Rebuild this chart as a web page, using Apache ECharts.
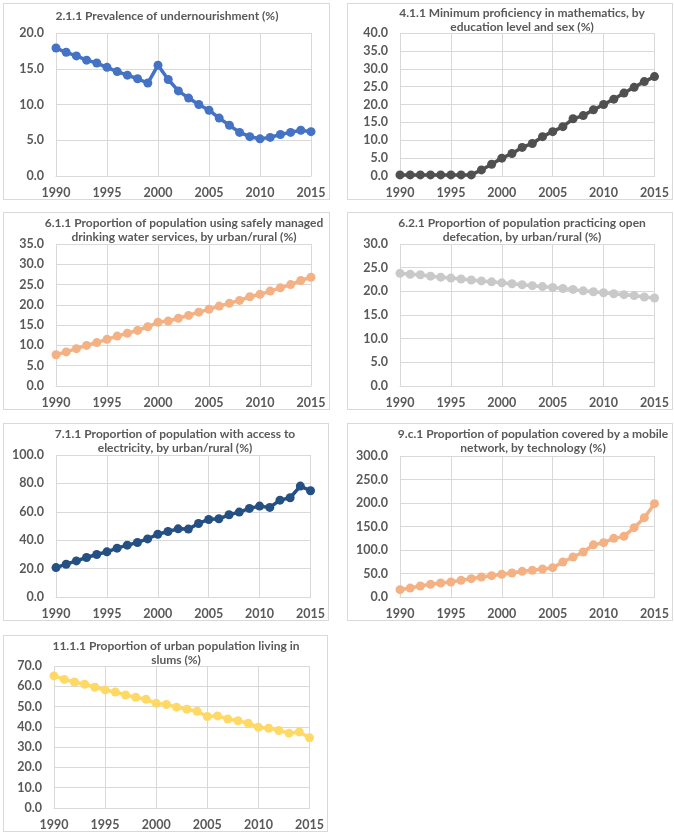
<!DOCTYPE html>
<html>
<head>
<meta charset="utf-8">
<script src="https://cdn.jsdelivr.net/npm/echarts@6/dist/echarts.min.js"></script>
<style>
  html, body { margin: 0; padding: 0; background: #fff; }
  body { width: 674px; height: 833px; position: relative; overflow: hidden; }
  .panel { position: absolute; border: 1px solid #d9d9d9; box-sizing: border-box; background: #fff; }
</style>
</head>
<body>
<div class="panel" id="p1" style="left:3px;top:3px;width:327px;height:197px"></div>
<div class="panel" id="p2" style="left:347px;top:3px;width:326px;height:197px"></div>
<div class="panel" id="p3" style="left:3px;top:212px;width:327px;height:198px"></div>
<div class="panel" id="p4" style="left:347px;top:212px;width:326px;height:198px"></div>
<div class="panel" id="p5" style="left:3px;top:423px;width:326px;height:198px"></div>
<div class="panel" id="p6" style="left:347px;top:423px;width:326px;height:198px"></div>
<div class="panel" id="p7" style="left:3px;top:635px;width:325px;height:197px"></div>
<script>
const years = ['1990','1991','1992','1993','1994','1995','1996','1997','1998','1999','2000','2001','2002',
  '2003','2004','2005','2006','2007','2008','2009','2010','2011','2012','2013','2014','2015']

// 2.1.1 Prevalence of undernourishment
const undernourishment = [17.9, 17.3, 16.8, 16.2, 15.8, 15.2, 14.6, 14.1, 13.6, 13.0, 15.5, 13.5, 11.9,
  10.9, 10.0, 9.2, 8.1, 7.1, 6.1, 5.5, 5.2, 5.4, 5.8, 6.1, 6.4, 6.2]
// 4.1.1 Minimum proficiency in mathematics
const mathProficiency = [0.3, 0.3, 0.3, 0.3, 0.3, 0.3, 0.3, 0.3, 1.7, 3.3, 5.0, 6.3, 8.0,
  9.1, 11.0, 12.4, 13.8, 16.0, 16.9, 18.5, 20.0, 21.5, 23.2, 24.8, 26.4, 27.8]
// 6.1.1 Safely managed drinking water
const drinkingWater = [7.7, 8.4, 9.2, 10.0, 10.7, 11.5, 12.3, 13.0, 13.7, 14.6, 15.7, 16.0, 16.7,
  17.4, 18.2, 18.9, 19.7, 20.4, 21.1, 22.0, 22.6, 23.4, 24.2, 25.0, 26.0, 26.8]
// 6.2.1 Open defecation
const openDefecation = [23.8, 23.6, 23.5, 23.2, 23.0, 22.8, 22.6, 22.4, 22.2, 22.0, 21.8, 21.6, 21.4,
  21.2, 21.0, 20.8, 20.6, 20.4, 20.1, 19.9, 19.7, 19.5, 19.3, 19.1, 18.8, 18.6]
// 7.1.1 Access to electricity
const electricity = [20.7, 23.1, 25.4, 27.8, 29.9, 31.8, 34.4, 36.5, 38.4, 40.9, 44.2, 46.1, 48.0,
  47.8, 51.8, 54.6, 55.1, 57.9, 59.8, 62.4, 64.0, 63.1, 68.2, 69.9, 78.1, 74.8]
// 9.c.1 Mobile network coverage
const mobileNetwork = [15.6, 19.0, 23.4, 27.0, 29.8, 31.9, 35.5, 39.0, 42.6, 45.4, 48.2, 51.0, 54.6,
  56.7, 59.6, 62.4, 74.5, 85.0, 95.7, 111.0, 115.6, 124.8, 129.0, 147.5, 168.8, 198.6]
// 11.1.1 Urban population living in slums
const slums = [65.1, 63.4, 62.1, 61.0, 59.5, 58.2, 57.2, 55.7, 54.6, 53.6, 51.6, 51.0, 49.7,
  48.7, 47.7, 45.1, 45.4, 43.9, 43.0, 41.8, 39.8, 39.3, 38.2, 36.9, 37.5, 34.6]

const font = 'Lato, "Noto Sans", sans-serif'
const textColor = '#595959'
const gridColor = '#d9d9d9'

function drawPanel(id, title, titleX, data, color, yMax, yStep, grid) {
  const chart = echarts.init(document.getElementById(id))
  chart.setOption({
    animation: false,
    title: {
      text: title,
      left: titleX,
      top: grid.titleTop,
      textAlign: 'center',
      padding: 0,
      textStyle: { fontFamily: font, fontSize: 12, fontWeight: 'bold', color: textColor, lineHeight: 14 }
    },
    grid: { left: grid.left, right: grid.right, top: grid.top, bottom: grid.bottom, containLabel: false },
    xAxis: {
      type: 'category',
      data: years,
      boundaryGap: false,
      axisLine: { lineStyle: { color: gridColor } },
      axisTick: { show: false },
      axisLabel: { interval: 4, color: textColor, fontFamily: font, fontSize: 12.5, fontWeight: 'bold', margin: 10 },
      splitLine: { show: true, interval: 4, lineStyle: { color: gridColor } }
    },
    yAxis: {
      type: 'value',
      min: 0,
      max: yMax,
      interval: yStep,
      axisLine: { show: false },
      axisTick: { show: false },
      axisLabel: { color: textColor, fontFamily: font, fontSize: 12.5, fontWeight: 'bold', margin: 12,
        formatter: v => v.toFixed(1) },
      splitLine: { lineStyle: { color: gridColor } }
    },
    series: [{
      type: 'line',
      data: data,
      color: color,
      symbol: 'circle',
      symbolSize: 9,
      showAllSymbol: true,
      lineStyle: { width: 3.5 },
      itemStyle: { color: color }
    }]
  })
}

drawPanel('p1', '2.1.1 Prevalence of undernourishment (%)', 163, undernourishment, '#4472c4', 20, 5,
  { left: 52, right: 18, top: 29, bottom: 23, titleTop: 5 })
drawPanel('p2', '4.1.1 Minimum proficiency in mathematics, by\neducation level and sex (%)', 174, mathProficiency, '#505050', 40, 5,
  { left: 52, right: 16, top: 29, bottom: 23, titleTop: 2 })
drawPanel('p3', '6.1.1 Proportion of population using safely managed\ndrinking water services, by urban/rural (%)', 180, drinkingWater, '#f4b183', 35, 5,
  { left: 52, right: 18, top: 31, bottom: 22, titleTop: 3 })
drawPanel('p4', '6.2.1 Proportion of population practicing open\ndefecation, by urban/rural (%)', 174, openDefecation, '#c9c9c9', 30, 5,
  { left: 52, right: 17, top: 31, bottom: 22, titleTop: 3 })
drawPanel('p5', '7.1.1 Proportion of population with access to\nelectricity, by urban/rural (%)', 171, electricity, '#245083', 100, 20,
  { left: 52, right: 16, top: 31, bottom: 23, titleTop: 3 })
drawPanel('p6', '9.c.1 Proportion of population covered by a mobile\nnetwork, by technology (%)', 185, mobileNetwork, '#f4b183', 300, 50,
  { left: 52, right: 17, top: 32, bottom: 23, titleTop: 3 })
drawPanel('p7', '11.1.1 Proportion of urban population living in\nslums (%)', 172, slums, '#ffd966', 70, 10,
  { left: 50, right: 17, top: 30, bottom: 23, titleTop: 3 })
</script>
</body>
</html>
